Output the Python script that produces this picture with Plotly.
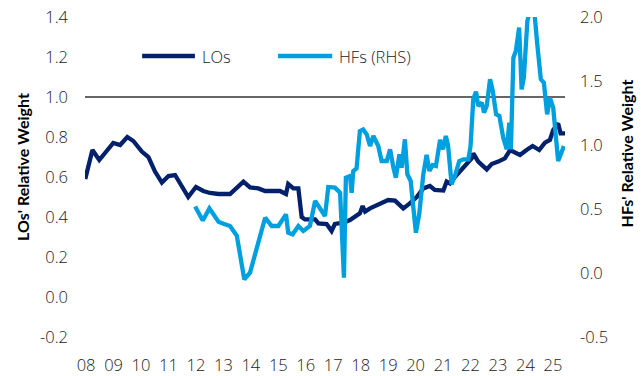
import plotly.graph_objects as go

# Long-only (LOs) relative weight, left axis — decimal year / value
lo_year = [2007.97, 2008.23, 2008.48, 2008.99, 2009.24, 2009.50, 2009.72, 2010.03, 2010.27,
           2010.51, 2010.76, 2011.00, 2011.24, 2011.48, 2011.72, 2012.00, 2012.27, 2012.51,
           2012.82, 2013.24, 2013.73, 2013.97, 2014.27, 2014.52, 2015.06, 2015.28, 2015.36,
           2015.55, 2015.73, 2015.85, 2015.97, 2016.34, 2016.46, 2016.76, 2016.94, 2017.06,
           2017.37, 2017.61, 2017.79, 2017.97, 2018.07, 2018.16, 2018.34, 2018.70, 2019.00,
           2019.25, 2019.55, 2019.79, 2020.04, 2020.28, 2020.52, 2020.70, 2021.01, 2021.13,
           2021.25, 2021.43, 2021.62, 2021.86, 2022.04, 2022.10, 2022.28, 2022.59, 2022.77,
           2023.01, 2023.25, 2023.44, 2023.62, 2023.80, 2024.04, 2024.26, 2024.50, 2024.71,
           2024.89, 2025.01, 2025.19, 2025.28, 2025.44]
lo_value = [0.59, 0.735, 0.685, 0.77, 0.76, 0.80, 0.78, 0.727, 0.70,
            0.627, 0.572, 0.605, 0.61, 0.55, 0.50, 0.55, 0.53, 0.52,
            0.515, 0.515, 0.577, 0.548, 0.543, 0.53, 0.53, 0.515, 0.565,
            0.543, 0.543, 0.40, 0.388, 0.388, 0.368, 0.365, 0.33, 0.365,
            0.372, 0.385, 0.40, 0.418, 0.455, 0.427, 0.443, 0.468, 0.485,
            0.482, 0.443, 0.468, 0.50, 0.543, 0.555, 0.535, 0.532, 0.577,
            0.568, 0.60, 0.627, 0.66, 0.693, 0.718, 0.677, 0.638, 0.665,
            0.677, 0.693, 0.735, 0.722, 0.71, 0.735, 0.755, 0.735, 0.772,
            0.785, 0.835, 0.868, 0.818, 0.818]

# Hedge fund (HFs) relative weight, right axis
hf_year = [2011.97, 2012.25, 2012.49, 2012.82, 2013.00, 2013.24, 2013.49, 2013.76, 2013.97,
           2014.52, 2014.76, 2015.00, 2015.28, 2015.36, 2015.52, 2015.73, 2015.91, 2016.15,
           2016.34, 2016.52, 2016.70, 2016.82, 2017.06, 2017.25, 2017.34, 2017.39, 2017.46,
           2017.61, 2017.67, 2017.73, 2017.85, 2017.97, 2018.09, 2018.22, 2018.34, 2018.46,
           2018.64, 2018.76, 2018.95, 2019.07, 2019.19, 2019.28, 2019.41, 2019.49, 2019.61,
           2019.70, 2019.82, 2019.92, 2020.01, 2020.13, 2020.28, 2020.40, 2020.50, 2020.62,
           2020.74, 2020.89, 2021.00, 2021.10, 2021.18, 2021.31, 2021.43, 2021.59, 2021.74,
           2021.92, 2022.00, 2022.10, 2022.20, 2022.28, 2022.41, 2022.49, 2022.59, 2022.71,
           2022.81, 2022.93, 2023.05, 2023.19, 2023.32, 2023.41, 2023.47, 2023.56, 2023.65,
           2023.77, 2023.86, 2023.94, 2024.07, 2024.16, 2024.32, 2024.43, 2024.56, 2024.67,
           2024.79, 2024.89, 2025.01, 2025.19, 2025.40]
hf_value = [0.52, 0.41, 0.505, 0.40, 0.385, 0.367, 0.29, -0.05, 0.003,
            0.432, 0.367, 0.367, 0.458, 0.315, 0.302, 0.367, 0.328, 0.367,
            0.5625, 0.51, 0.445, 0.672, 0.667, 0.627, 0.146, -0.036, 0.745,
            0.758, 0.627, 0.797, 0.818, 1.109, 1.122, 1.083, 0.992, 1.07,
            0.992, 0.875, 0.875, 0.966, 0.823, 0.745, 0.927, 0.823, 1.044,
            0.771, 0.719, 0.458, 0.315, 0.458, 0.771, 0.922, 0.797, 0.844,
            0.836, 1.04, 0.966, 1.07, 1.0, 0.693, 0.758, 0.875, 0.888,
            0.888, 0.992, 1.357, 1.417, 1.305, 1.331, 1.253, 1.305, 1.513,
            1.422, 1.24, 1.227, 1.057, 0.966, 1.175, 0.966, 1.682, 1.734,
            1.917, 1.435, 1.526, 1.969, 2.05, 2.05, 1.787, 1.513, 1.487,
            1.24, 1.37, 1.292, 0.875, 0.992]

year_ticks = list(range(2008, 2026))
year_labels = [f"{y % 100:02d}" for y in year_ticks]
left_ticks = [-0.2, 0.0, 0.2, 0.4, 0.6, 0.8, 1.0, 1.2, 1.4]
right_ticks = [-0.5, 0.0, 0.5, 1.0, 1.5, 2.0]

NAVY = "#03216A"
SKY = "#009FDF"
TEXT = "#222222"
TICK_FONT = dict(family="Open Sans", size=16.5, color=TEXT, weight=300)
TITLE_FONT = dict(family="Lato", size=16, color="#000000", weight=700)

fig = go.Figure()
fig.add_trace(go.Scatter(x=lo_year, y=lo_value, name="LOs", mode="lines",
                         line=dict(color=NAVY, width=4.3), yaxis="y"))
fig.add_trace(go.Scatter(x=hf_year, y=hf_value, name="HFs (RHS)", mode="lines",
                         line=dict(color=SKY, width=4.3), yaxis="y2"))

# parity reference line at 1.0 on the left axis
fig.add_shape(type="line", xref="paper", yref="y", x0=0, x1=1, y0=1.0, y1=1.0,
              line=dict(color="#333333", width=1.5), layer="below")

# legend drawn as short line samples with labels
legend_items = [("LOs", NAVY, 0.119, 0.229), ("HFs (RHS)", SKY, 0.402, 0.515)]
for label, color, xa, xb in legend_items:
    fig.add_shape(type="line", xref="paper", yref="paper", x0=xa, x1=xb, y0=0.878, y1=0.878,
                  line=dict(color=color, width=4.5))
    fig.add_annotation(xref="paper", yref="paper", x=xb + 0.01, y=0.878, text=label,
                       showarrow=False, xanchor="left", yanchor="middle",
                       font=dict(family="Open Sans", size=16.5, color=TEXT, weight=300))

# axis titles
fig.add_annotation(xref="paper", yref="paper", x=-0.13, y=0.53, text="LOs' Relative Weight",
                   textangle=-90, showarrow=False, xanchor="center", yanchor="middle",
                   font=TITLE_FONT)
fig.add_annotation(xref="paper", yref="paper", x=1.128, y=0.575, text="HFs' Relative Weight",
                   textangle=-90, showarrow=False, xanchor="center", yanchor="middle",
                   font=TITLE_FONT)

fig.update_layout(
    width=641, height=376,
    margin=dict(l=85, r=76, t=17, b=39, autoexpand=False),
    paper_bgcolor="white", plot_bgcolor="white",
    showlegend=False,
    xaxis=dict(range=[2007.96, 2025.44], tickvals=year_ticks, ticktext=year_labels,
               showgrid=False, zeroline=False, showline=False, ticks="", automargin=False,
               tickfont=TICK_FONT, ticklabelstandoff=16),
    yaxis=dict(range=[-0.2, 1.4], tickvals=left_ticks,
               ticktext=[f"{v:.1f}" for v in left_ticks],
               showgrid=False, zeroline=False, showline=False, ticks="", automargin=False,
               tickfont=TICK_FONT, ticklabelstandoff=16),
    yaxis2=dict(range=[-0.5, 2.0], tickvals=right_ticks,
                ticktext=[f"{v:.1f}" for v in right_ticks],
                overlaying="y", side="right", showgrid=False, zeroline=False, showline=False,
                ticks="", automargin=False, tickfont=TICK_FONT, ticklabelstandoff=14),
)

fig.write_html("out.html")
